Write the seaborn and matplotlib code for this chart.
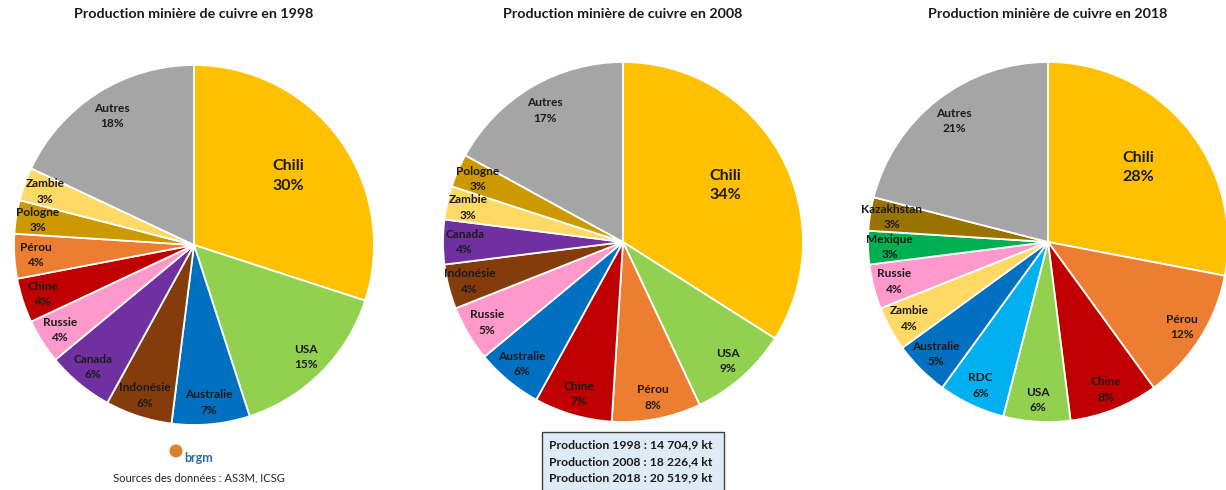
import numpy as np
import matplotlib
matplotlib.use("Agg")
import matplotlib.pyplot as plt
import seaborn as sns
from matplotlib.patches import Rectangle, Ellipse

# ---------------- data ----------------
years = ["1998", "2008", "2018"]

labels_1998 = ["Chili", "USA", "Australie", "Indonésie", "Canada", "Russie",
               "Chine", "Pérou", "Pologne", "Zambie", "Autres"]
values_1998 = [30, 15, 7, 6, 6, 4, 4, 4, 3, 3, 18]

labels_2008 = ["Chili", "USA", "Pérou", "Chine", "Australie", "Russie",
               "Indonésie", "Canada", "Zambie", "Pologne", "Autres"]
values_2008 = [34, 9, 8, 7, 6, 5, 4, 4, 3, 3, 17]

labels_2018 = ["Chili", "Pérou", "Chine", "USA", "RDC", "Australie",
               "Zambie", "Russie", "Mexique", "Kazakhstan", "Autres"]
values_2018 = [28, 12, 8, 6, 6, 5, 4, 4, 3, 3, 21]

production_lines = ["Production 1998 : 14 704,9 kt",
                    "Production 2008 : 18 226,4 kt",
                    "Production 2018 : 20 519,9 kt"]
source_text = "Sources des données : AS3M, ICSG"

country_colors = {
    "Chili": "#FFC000", "USA": "#92D050", "Australie": "#0070C0",
    "Indonésie": "#843C0C", "Canada": "#7030A0", "Russie": "#FF99CC",
    "Chine": "#C00000", "Pérou": "#ED7D31", "Pologne": "#CC9900",
    "Zambie": "#FFD966", "Autres": "#A5A5A5", "RDC": "#00B0F0",
    "Mexique": "#00B050", "Kazakhstan": "#997300",
}

# ---------------- style ----------------
sns.set_theme(style="white")
plt.rcParams["font.family"] = ["Lato", "DejaVu Sans"]

W, H = 1226, 490
fig = plt.figure(figsize=(W / 100, H / 100), dpi=100)
fig.patch.set_facecolor("white")

R = 180  # pixel radius
centers = [(194, 245), (623, 242), (1048, 242)]
datasets = [(labels_1998, values_1998), (labels_2008, values_2008),
            (labels_2018, values_2018)]

for (cx, cy), (labs, vals), yr in zip(centers, datasets, years):
    ax = fig.add_axes([(cx - R) / W, (H - cy - R) / H, 2 * R / W, 2 * R / H])
    wedges, _ = ax.pie(vals, colors=[country_colors[l] for l in labs],
                       startangle=90, counterclock=False, radius=1,
                       wedgeprops=dict(edgecolor="white", linewidth=1.3))
    ax.set_xlim(-1, 1)
    ax.set_ylim(-1, 1)
    ax.set_aspect("equal")
    ax.axis("off")
    for w, lab, v in zip(wedges, labs, vals):
        mid = np.deg2rad((w.theta1 + w.theta2) / 2)
        if lab == "Chili":
            rr, fs = 0.65, 11.5
        elif lab == "Autres":
            rr, fs = 0.85, 8.6
        else:
            rr, fs = 0.88, 8.6
        ax.text(rr * np.cos(mid), rr * np.sin(mid), f"{lab}\n{v}%",
                ha="center", va="center", fontsize=fs, fontweight="bold",
                color="#1a1a1a", linespacing=1.5)
    fig.text(cx / W, 1 - 14 / H, f"Production minière de cuivre en {yr}",
             ha="center", va="center", fontsize=10.3, fontweight="bold",
             color="#1a1a1a")

# production box
bx0, bx1, by0, by1 = 542, 724, 432, 492
fig.patches.append(Rectangle((bx0 / W, 1 - by1 / H), (bx1 - bx0) / W,
                             (by1 - by0) / H, transform=fig.transFigure,
                             facecolor="#DEEBF7", edgecolor="#404040",
                             linewidth=1.0))
for i, line in enumerate(production_lines):
    fig.text(549 / W, 1 - (445 + i * 16.5) / H, line, ha="left", va="center",
             fontsize=8.8, fontweight="bold", color="#1a1a1a")

# brgm logo approximation
fig.patches.append(Ellipse((176 / W, 1 - 451 / H), 13 / W, 13 / H,
                           transform=fig.transFigure,
                           facecolor="#D9822B", edgecolor="none"))
fig.text(184 / W, 1 - 458 / H, "brgm", ha="left", va="center", fontsize=9,
         fontweight="bold", color="#2F6AA8")
fig.text(199 / W, 1 - 478 / H, source_text, ha="center", va="center",
         fontsize=8, color="#262626")

fig.savefig("out.png", dpi=100, facecolor="white")
